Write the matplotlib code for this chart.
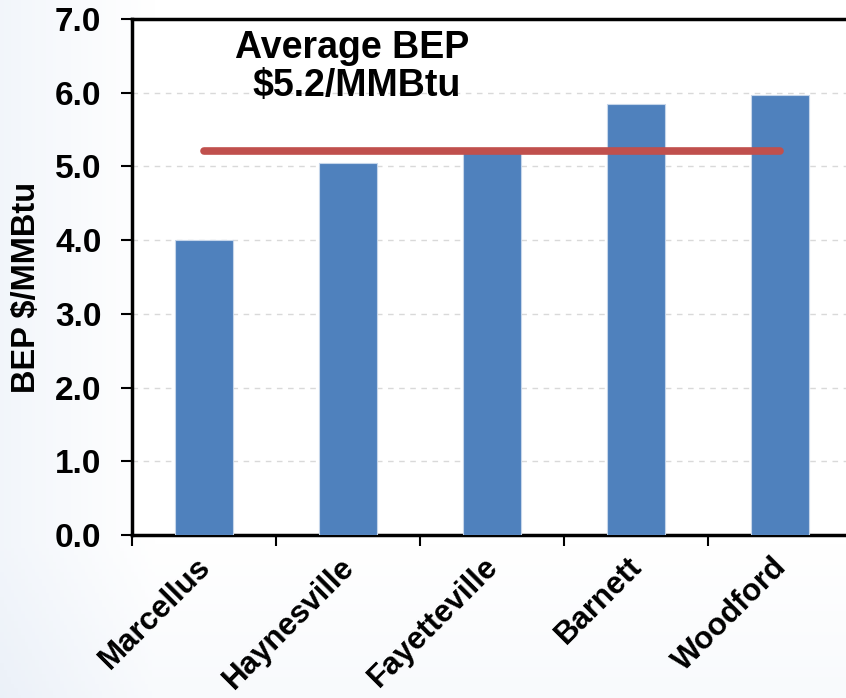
import numpy as np
import matplotlib
matplotlib.use("Agg")
import matplotlib.pyplot as plt
from matplotlib.ticker import FixedLocator, FormatStrFormatter
from matplotlib.transforms import ScaledTranslation

plays = ["Marcellus", "Haynesville", "Fayetteville", "Barnett", "Woodford"]
bep = [4.0, 5.05, 5.2, 5.85, 5.97]
y_ticks = [0, 1, 2, 3, 4, 5, 6, 7]

avg = float(np.mean(bep))

plt.rcParams["font.family"] = ["Liberation Sans", "DejaVu Sans"]
plt.rcParams["font.weight"] = "bold"

W, H = 846, 698
fig = plt.figure(figsize=(W / 100, H / 100), dpi=100)
fig.patch.set_facecolor("white")

# soft bluish backdrop along the left and bottom edges
bg = fig.add_axes([0, 0, 1, 1], zorder=-10)
yy, xx = np.mgrid[0:1:200j, 0:1:240j]
haze = np.clip(1 - xx / 0.18, 0, 1) * 0.55 + np.clip((0.22 - yy) / 0.22, 0, 1) * 0.3
haze = np.clip(haze, 0, 1)
base = np.array([1.0, 1.0, 1.0])
tint = np.array([0.91, 0.935, 0.97])
img = base[None, None, :] * (1 - haze[..., None]) + tint[None, None, :] * haze[..., None]
bg.imshow(img, extent=[0, 1, 0, 1], aspect="auto", origin="lower")
bg.axis("off")

ax = fig.add_axes([132 / W, (H - 535) / H, 720 / W, 516 / H])
ax.set_facecolor("white")

x = np.arange(len(plays))
ax.bar(x, bep, width=0.4, color="#4F81BD", edgecolor="#C6D6EA", linewidth=0.8, zorder=3)
ax.plot([x[0], x[-1]], [avg, avg], color="#C0504D", linewidth=5.5,
        solid_capstyle="round", zorder=4)

ax.set_xlim(-0.5, len(plays) - 0.5)
ax.set_ylim(0, 7)
ax.set_yticks(y_ticks)
ax.yaxis.set_major_formatter(FormatStrFormatter("%.1f"))
ax.yaxis.grid(True, color="#D9D9D9", linestyle=(0, (4, 4)), linewidth=1.0, zorder=0)
ax.set_axisbelow(True)

# category labels sit slightly left of each bar centre
ax.set_xticks(x - 0.06)
ax.set_xticklabels(plays, rotation=45, ha="right", va="top",
                   rotation_mode="anchor", fontsize=22.5, fontweight="bold")
ax.tick_params(axis="x", which="major", length=0, pad=12)
ax.xaxis.set_minor_locator(FixedLocator(np.arange(-0.5, len(plays), 1.0)))
ax.tick_params(axis="x", which="minor", length=8, width=1.5, direction="out")
ax.tick_params(axis="y", length=8, width=1.5, direction="out", labelsize=24, pad=14)
for lab in ax.get_yticklabels():
    lab.set_fontweight("bold")

for side in ["left", "bottom", "top"]:
    ax.spines[side].set_linewidth(2.5)
    ax.spines[side].set_color("black")
ax.spines["right"].set_visible(False)

ax.set_ylabel("BEP $/MMBtu", fontsize=23.5, fontweight="bold")
ax.yaxis.set_label_coords(-0.125, 0.479)

ax.text(1.03, 6.61, "Average BEP", ha="center", va="center",
        fontsize=27, fontweight="bold", zorder=5)
ax.text(1.06, 6.09, f"${avg:.1f}/MMBtu", ha="center", va="center",
        fontsize=27, fontweight="bold", zorder=5)

fig.savefig("out.png", dpi=100)
